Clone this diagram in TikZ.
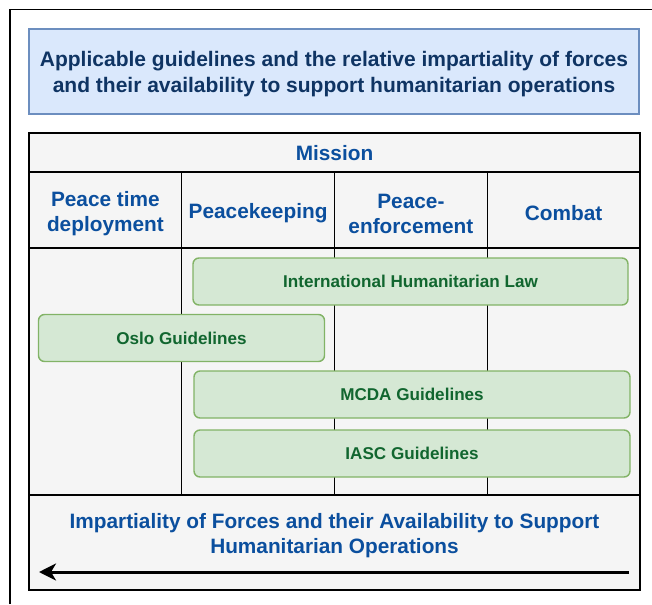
\documentclass[tikz,border=0pt]{standalone}
\usepackage{fontspec}
\setmainfont{Liberation Sans}
\usetikzlibrary{positioning, arrows.meta, calc}

\definecolor{titlefill}{HTML}{DAE8FC}
\definecolor{titleline}{HTML}{6C8EBF}
\definecolor{titletext}{HTML}{0F3463}
\definecolor{cellfill}{HTML}{F5F5F5}
\definecolor{celltext}{HTML}{0B4F9E}
\definecolor{guidefill}{HTML}{D5E8D4}
\definecolor{guideline}{HTML}{82B366}
\definecolor{guidetext}{HTML}{11662F}

\tikzset{
  frame/.style={draw=black, line width=1.4pt},
  titlebox/.style={draw=titleline, fill=titlefill, line width=1.2pt,
    minimum width=610pt, minimum height=85pt},
  titlelabel/.style={align=center, text=titletext, inner sep=0pt,
    font=\fontsize{21}{26}\selectfont\bfseries},
  cell/.style={draw=black, fill=cellfill, line width=1.2pt, inner sep=0pt},
  celllabel/.style={align=center, text=celltext, inner sep=0pt,
    font=\fontsize{20.8}{25}\selectfont\bfseries},
  guide/.style={draw=guideline, fill=guidefill, line width=1.4pt, rounded corners=6pt,
    minimum height=47pt, text=guidetext, font=\fontsize{17.1}{20}\selectfont\bfseries},
  impact/.style={line width=3pt, -{Stealth[length=17pt, width=17pt, inset=5pt]}}
}

\begin{document}
\begin{tikzpicture}[x=1pt, y=-1pt]
    \useasboundingbox (0,0) rectangle (652,604);
    \draw[frame] (10,604) -- (10,9.5) -- (652,9.5);

    \node[titlebox] (title) at (334,71.5) {};
    \node[titlelabel] (titletext) at (334,74.5)
      {Applicable guidelines and the relative impartiality of forces\\
       and their availability to support humanitarian operations};

% table: mission row, column heads, body, bottom row
\node[cell, minimum width=611pt, minimum height=39pt] (mission) at (334.5,152.5) {};
\node[celllabel] at (334.5,153.5) {Mission};
\foreach \col/\xc/\txt in {peacetime/105.4/{Peace time\\deployment}, keeping/258.1/Peacekeeping,
                           enforce/410.9/{Peace-\\enforcement}, combat/563.6/Combat}
{
    \node[cell, minimum width=152.75pt, minimum height=76pt] (\col) at (\xc,210) {};
    \node[celllabel] (\col-text) at (\xc,213.5) {\txt};
    \node[cell, minimum width=152.75pt, minimum height=247pt] (body-\col) at (\xc,371.5) {};
}
\node[cell, minimum width=611pt, minimum height=95pt] (impart) at (334.5,542.5) {};
\node[celllabel] (impartlabel) at (334.5,536)
    {Impartiality of Forces and their Availability to Support\\Humanitarian Operations};

% guidelines
\node[guide, minimum width=435pt] (ihl) at (410.5,281.5) {International Humanitarian Law};
\node[guide, minimum width=286pt] (oslo) at (181.5,338) {Oslo Guidelines};
\node[guide, minimum width=436pt] (mcda) at (412,394.5) {MCDA Guidelines};
\node[guide, minimum width=436pt] (iasc) at (412,453.5) {IASC Guidelines};

\coordinate (arrowstart) at (629,572);
\coordinate (arrowend) at (39,572);
\draw[impact] (arrowstart) -- (arrowend);
\end{tikzpicture}
\end{document}
